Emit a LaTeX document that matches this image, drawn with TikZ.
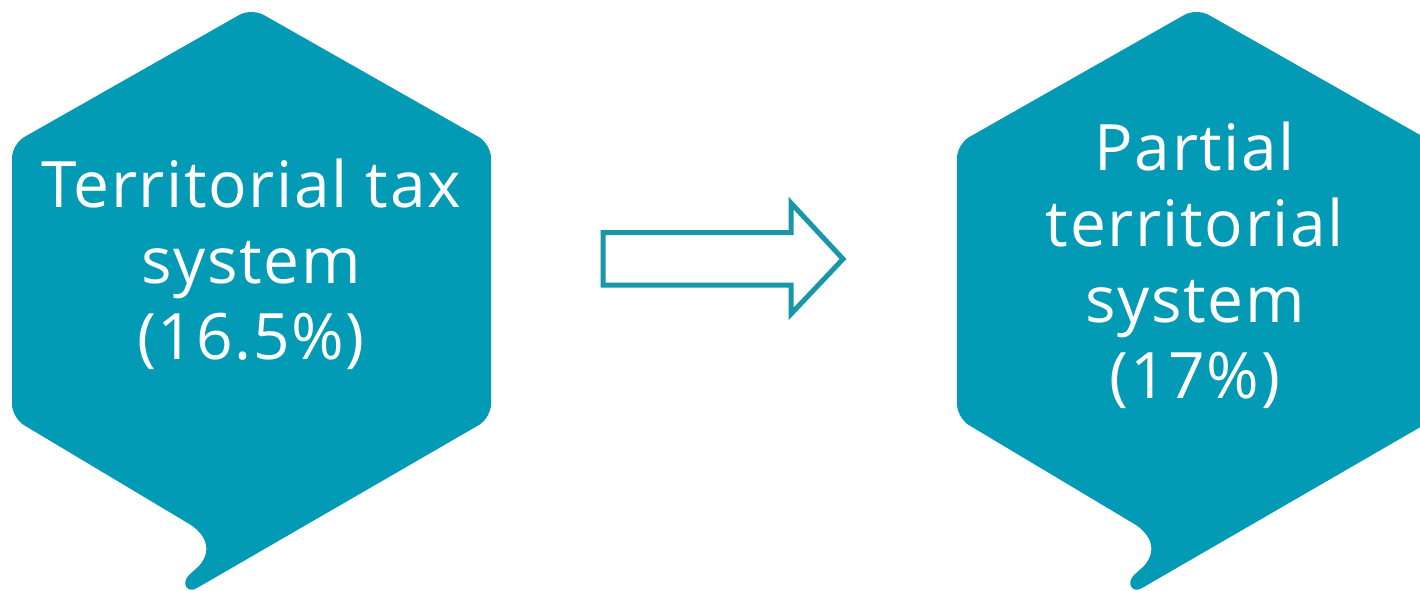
\documentclass[tikz,border=0pt]{standalone}
\usepackage{fontspec}
\setmainfont[LetterSpace=2.5]{Open Sans}
\definecolor{hexfill}{RGB}{2,154,181}
\definecolor{arrowline}{RGB}{24,151,168}
\tikzset{
  hexshape/.style={fill=hexfill},
  hextext/.style={text=white, font=\fontsize{64}{76}\selectfont, align=center, anchor=base, inner sep=0pt},
  blockarrow/.style={draw=arrowline, line width=5pt, miter limit=10, fill=white}
}
\newcommand{\bubblepath}{%
  (186,522) .. controls (206,533) and (213,550) .. (199,566)
  -- (189,575) .. controls (181,583) and (187,594) .. (197,588)
  [rounded corners=14pt] -- (491,418) -- (491,144) -- (251.5,8) -- (12,144) -- (12,418) [sharp corners] -- cycle}
\begin{document}
\begin{tikzpicture}[x=1pt,y=-1pt]
\useasboundingbox (0,0) rectangle (1420,590);
\clip (0,0) rectangle (1420,590);
% left bubble
\fill[hexshape] \bubblepath;
% right bubble
\begin{scope}[xshift=945pt]
\fill[hexshape] \bubblepath;
\end{scope}
\node[hextext] (lefttext) at (251,359) {Territorial tax\\system\\(16.5\%)};
\node[hextext] (righttext) at (1195,398) {Partial\\territorial\\system\\(17\%)};
% block arrow
\coordinate (a1) at (603,232.5);
\coordinate (a2) at (791,232.5);
\coordinate (a3) at (791,203);
\coordinate (a4) at (843,259);
\coordinate (a5) at (791,314);
\coordinate (a6) at (791,285);
\coordinate (a7) at (603,285);
\draw[blockarrow] (a1) -- (a2) -- (a3) -- (a4) -- (a5) -- (a6) -- (a7) -- cycle;
\end{tikzpicture}
\end{document}
